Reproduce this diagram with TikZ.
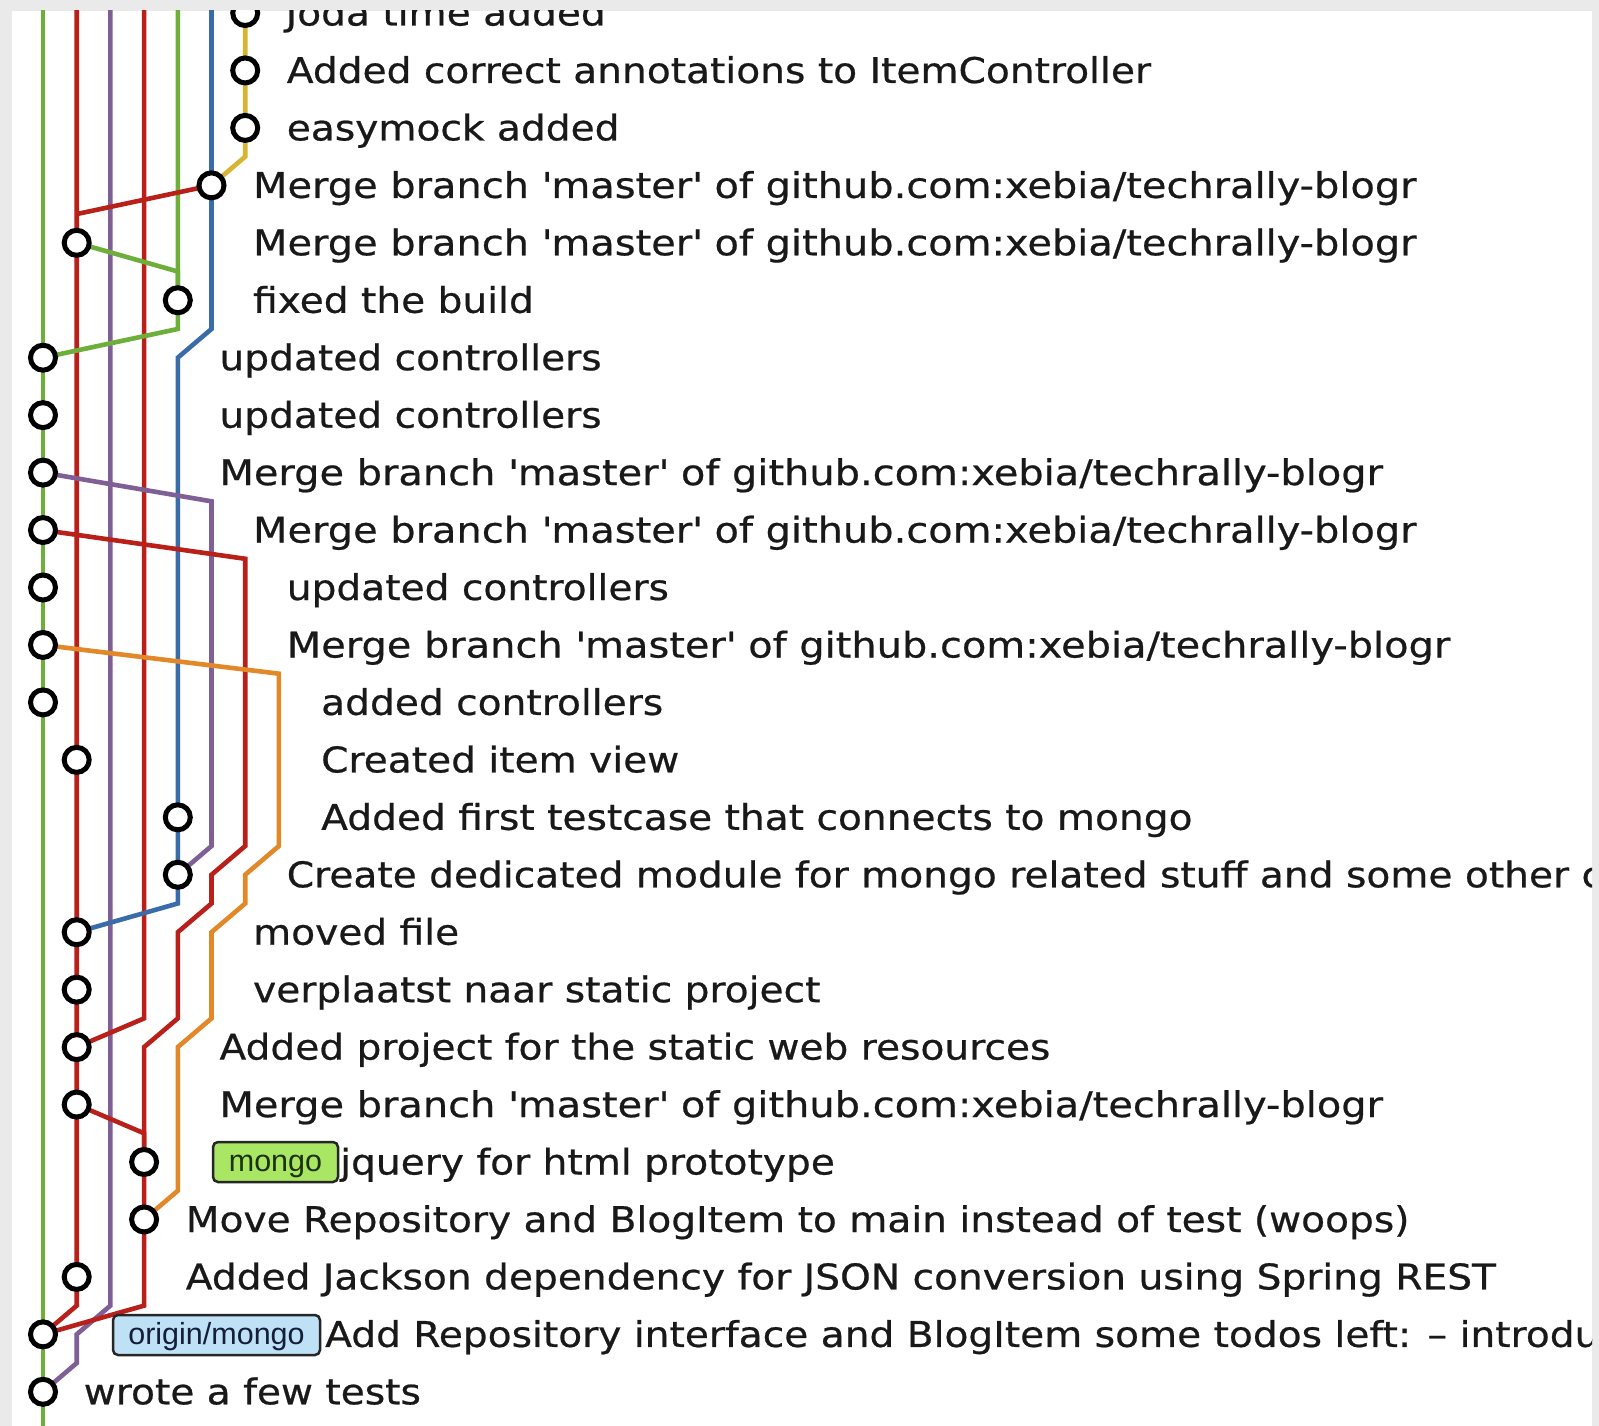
\documentclass[tikz,border=0pt]{standalone}
\usepackage{fontspec}
\setmainfont{DejaVu Sans}
\newfontfamily\lblfont{DejaVu Sans}[FakeStretch=1.105,FakeBold=0.6]
\newfontfamily\lblfontw{DejaVu Sans}[FakeStretch=1.127,FakeBold=0.6]
\newfontfamily\tagfont{Liberation Sans}
\newcommand\sq{\textquotesingle}
\definecolor{bordergray}{RGB}{234,234,234}
\definecolor{gGreen}{RGB}{110,175,60}
\definecolor{gRed}{RGB}{185,32,26}
\definecolor{gPurple}{RGB}{128,95,150}
\definecolor{gBlue}{RGB}{58,108,170}
\definecolor{gYellow}{RGB}{215,180,50}
\definecolor{gOrange}{RGB}{226,136,40}
\definecolor{txt}{RGB}{25,25,25}
\definecolor{tagGreen}{RGB}{168,230,100}
\definecolor{tagBlue}{RGB}{190,225,246}
\begin{document}
\begin{tikzpicture}[x=1pt,y=-1pt,
  lane/.style={line width=4.6pt},
  commit/.style={circle,draw=black,fill=white,line width=5pt,inner sep=0pt,minimum size=25pt},
  lbl/.style={anchor=base west,inner sep=0pt,text=txt,font=\lblfont\fontsize{35.4}{40}\selectfont},
  mlbl/.style={lbl,font=\lblfontw\fontsize{35.4}{40}\selectfont},
  tagbox/.style={draw=black!85,rounded corners=5pt,line width=2.5pt,minimum height=40pt,inner sep=0pt,text height=21pt,text depth=3pt,font=\tagfont\fontsize{30.5}{32}\selectfont}]
\useasboundingbox (0,0) rectangle (1599,1426);
\fill[bordergray] (0,0) rectangle (1599,1426);
\fill[white] (12,11) rectangle (1592,1426);
\begin{scope}
\clip (12,11) rectangle (1592,1426);
% ---------- graph ----------
\begin{scope}[shift={(43pt,-13pt)},x=33.7pt,y=-57.45pt]
\coordinate (p0) at (6,0);  \coordinate (p1) at (6,1);  \coordinate (p2) at (6,2);
\coordinate (p3) at (5,3);  \coordinate (p4) at (1,4);  \coordinate (p5) at (4,5);
\coordinate (p6) at (0,6);  \coordinate (p7) at (0,7);  \coordinate (p8) at (0,8);
\coordinate (p9) at (0,9);  \coordinate (p10) at (0,10); \coordinate (p11) at (0,11);
\coordinate (p12) at (0,12); \coordinate (p13) at (1,13); \coordinate (p14) at (4,14);
\coordinate (p15) at (4,15); \coordinate (p16) at (1,16); \coordinate (p17) at (1,17);
\coordinate (p18) at (1,18); \coordinate (p19) at (1,19); \coordinate (p20) at (3,20);
\coordinate (p21) at (3,21); \coordinate (p22) at (1,22); \coordinate (p23) at (0,23);
\coordinate (p24) at (0,24);
\coordinate (top0) at (0,-0.2); \coordinate (top1) at (1,-0.2); \coordinate (top2) at (2,-0.2);
\coordinate (top3) at (3,-0.2); \coordinate (top4) at (4,-0.2); \coordinate (top5) at (5,-0.2);
\coordinate (bot0) at (0,24.8);
% lanes
\draw[lane,gGreen] (top0) -- (bot0);
\draw[lane,gRed] (top1) -- (1,22.5) -- (p23);
\draw[lane,gPurple] (top2) -- (2,22.5) -- (1,23) -- (1,23.5) -- (p24);
\draw[lane,gRed] (top3) -- (3,17.5) -- (p18);
\draw[lane,gGreen] (top4) -- (p5) -- (4,5.5) -- (p6);
\draw[lane,gBlue] (top5) -- (p3) -- (5,5.5) -- (4,6) -- (p14) -- (p15) -- (4,15.5) -- (p16);
\draw[lane,gYellow] (p0) -- (p1) -- (p2) -- (6,2.5) -- (p3);
\draw[lane,gRed] (p3) -- (1,3.5);
\draw[lane,gGreen] (p4) -- (4,4.5) -- (p5);
\draw[lane,gPurple] (p8) -- (5,8.5) -- (5,14.5) -- (p15);
\draw[lane,gRed] (p9) -- (6,9.5) -- (6,14.5) -- (5,15) -- (5,15.5) -- (4,16) -- (4,17.5) -- (3,18) -- (p20) -- (p21) -- (3,22.5) -- (p23);
\draw[lane,gOrange] (p11) -- (7,11.5) -- (7,14.5) -- (6,15) -- (6,15.5) -- (5,16) -- (5,17.5) -- (4,18) -- (4,20.5) -- (p21);
\draw[lane,gRed] (p19) -- (3,19.5) -- (p20);
% commits
\foreach \i in {0,...,24} { \node[commit] (n\i) at (p\i) {}; }
\end{scope}
% ---------- labels ----------
\node[lbl] (t0) at (285.5,25.5) {Joda time added};
\node[lbl] (t1) at (286.6,83.0) {Added correct annotations to ItemController};
\node[lbl] (t2) at (286.6,140.4) {easymock added};
\node[mlbl] (t3) at (252.9,197.9) {Merge branch \sq master\sq\ of github.com:xebia/techrally-blogr};
\node[mlbl] (t4) at (252.9,255.3) {Merge branch \sq master\sq\ of github.com:xebia/techrally-blogr};
\node[lbl] (t5) at (252.9,312.8) {fixed the build};
\node[lbl] (t6) at (219.3,370.2) {updated controllers};
\node[lbl] (t7) at (219.3,427.7) {updated controllers};
\node[mlbl] (t8) at (219.3,485.1) {Merge branch \sq master\sq\ of github.com:xebia/techrally-blogr};
\node[mlbl] (t9) at (252.9,542.6) {Merge branch \sq master\sq\ of github.com:xebia/techrally-blogr};
\node[lbl] (t10) at (286.6,600.0) {updated controllers};
\node[mlbl] (t11) at (286.6,657.5) {Merge branch \sq master\sq\ of github.com:xebia/techrally-blogr};
\node[lbl] (t12) at (321,714.9) {added controllers};
\node[lbl] (t13) at (321,772.4) {Created item view};
\node[lbl] (t14) at (321,829.8) {Added first testcase that connects to mongo};
\node[lbl] (t15) at (286.6,887.3) {Create dedicated module for mongo related stuff and some other changes};
\node[lbl] (t16) at (252.9,944.7) {moved file};
\node[lbl] (t17) at (252.9,1002.2) {verplaatst naar static project};
\node[lbl] (t18) at (219.3,1059.6) {Added project for the static web resources};
\node[mlbl] (t19) at (219.3,1117.1) {Merge branch \sq master\sq\ of github.com:xebia/techrally-blogr};
\node[tagbox,fill=tagGreen,text={rgb,255:red,28;green,50;blue,12},minimum width=125pt] (tag1) at (275.5,1162) {mongo};
\node[lbl] (t20) at (340,1174.5) {jquery for html prototype};
\node[lbl] (t21) at (185.6,1232.0) {Move Repository and BlogItem to main instead of test (woops)};
\node[lbl] (t22) at (185.6,1289.4) {Added Jackson dependency for JSON conversion using Spring REST};
\node[tagbox,fill=tagBlue,text={rgb,255:red,20;green,30;blue,60},minimum width=207pt] (tag2) at (216.5,1335) {origin/mongo};
\node[lbl] (t23) at (325,1346.9) {Add Repository interface and BlogItem some todos left: – introduced};
\node[lbl] (t24) at (83.6,1404.3) {wrote a few tests};
\end{scope}
\end{tikzpicture}
\end{document}
